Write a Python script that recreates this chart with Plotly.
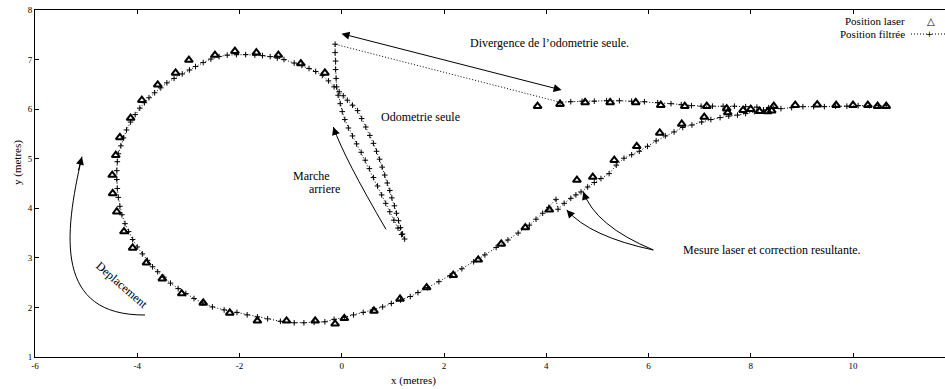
import plotly.graph_objects as go

# ---- Data ----
laser_x = [3.83, 4.27, 4.76, 5.25, 5.75, 6.24, 6.71, 7.14, 7.53, 7.55, 7.85, 8.00, 8.17, 8.33, 8.41,
           8.45, 8.87, 9.30, 9.67, 10.00, 10.29, 10.48, 10.65,
           7.09, 6.65, 6.22, 5.77, 5.33, 4.91, 4.60, 4.06, 3.59, 3.12, 2.67, 2.18, 1.66, 1.14, 0.63,
           0.05, -0.13, -0.52, -1.08, -1.65, -2.19, -2.71, -3.13, -3.51, -3.82, -4.09, -4.26, -4.40,
           -4.48, -4.49, -4.42, -4.34, -4.13, -3.91, -3.60, -3.25, -2.99, -2.48, -2.09, -1.67, -1.24,
           -0.80, -0.33]
laser_y = [6.06, 6.10, 6.135, 6.135, 6.135, 6.08, 6.06, 6.06, 6.01, 5.93, 5.98, 6.00, 5.96, 5.95, 5.97,
           6.06, 6.08, 6.09, 6.08, 6.08, 6.08, 6.06, 6.06,
           5.84, 5.70, 5.52, 5.25, 4.97, 4.63, 4.57, 3.97, 3.61, 3.28, 2.96, 2.65, 2.40, 2.17, 1.93,
           1.78, 1.67, 1.73, 1.73, 1.73, 1.89, 2.09, 2.28, 2.58, 2.90, 3.20, 3.53, 3.93,
           4.30, 4.67, 5.07, 5.43, 5.82, 6.18, 6.49, 6.73, 6.99, 7.09, 7.17, 7.14, 7.09,
           6.92, 6.73]

filt_x = [8.45, 8.25, 8.07, 7.90, 7.74, 7.57, 7.40, 7.22, 7.04, 6.85, 6.67, 6.50, 6.33, 6.15, 5.98,
          5.82, 5.67, 5.52, 5.37, 5.23, 5.07, 4.94, 4.81, 4.68, 4.58, 4.48, 4.35, 4.23, 4.19, 4.05,
          3.93, 3.80, 3.67, 3.45, 3.25, 3.02, 2.80, 2.58, 2.35, 2.12, 1.90, 1.68, 1.49, 1.34, 1.15,
          0.97, 0.80, 0.60, 0.42, 0.23, 0.05, -0.15, -0.33, -0.54, -0.74, -0.93, -1.20, -1.45, -1.65,
          -1.85, -2.05, -2.30, -2.53, -2.72, -2.89, -3.05, -3.20, -3.35, -3.48, -3.60, -3.70, -3.80,
          -3.90, -4.00, -4.09, -4.17, -4.24, -4.30, -4.34, -4.37, -4.39, -4.40, -4.40, -4.39, -4.37,
          -4.32, -4.27, -4.21, -4.13, -4.04, -3.95, -3.86, -3.77, -3.66, -3.54, -3.42, -3.28, -3.12,
          -2.98, -2.86, -2.71, -2.56, -2.40, -2.24, -2.06, -1.88, -1.70, -1.55, -1.40, -1.26, -1.13,
          -0.93, -0.78, -0.64, -0.51, -0.38, -0.26, -0.15, -0.05, 0.03, 0.11, 0.21, 0.31,
          0.39, 0.47, 0.55, 0.62, 0.68, 0.74, 0.79, 0.84, 0.89, 0.94, 0.98, 1.03, 1.07, 1.11, 1.15,
          1.19, 1.23,
          1.17, 1.10, 1.02, 0.94, 0.86, 0.78, 0.70, 0.62, 0.54, 0.46, 0.38, 0.29, 0.21, 0.13, 0.06,
          0.01, -0.03, -0.07, -0.10, -0.11, -0.12, -0.12, -0.13, -0.13,
          4.27, 4.48, 4.70, 4.94, 5.18, 5.43, 5.67, 5.92, 6.18, 6.44, 6.64, 6.84, 7.03, 7.25, 7.46,
          7.68, 7.90, 8.12, 8.35, 8.59, 8.80, 9.02, 9.23, 9.44, 9.66, 9.88, 10.10, 10.32, 10.50, 10.65]
filt_y = [6.02, 5.98, 5.95, 5.91, 5.88, 5.86, 5.83, 5.79, 5.74, 5.68, 5.63, 5.54, 5.46, 5.36, 5.25,
          5.15, 5.08, 5.01, 4.87, 4.70, 4.60, 4.52, 4.43, 4.33, 4.27, 4.20, 4.10, 3.98, 4.18, 4.02,
          3.90, 3.78, 3.66, 3.50, 3.36, 3.21, 3.06, 2.92, 2.78, 2.64, 2.52, 2.40, 2.30, 2.22, 2.15,
          2.08, 2.01, 1.95, 1.90, 1.85, 1.80, 1.76, 1.71, 1.70, 1.69, 1.69, 1.72, 1.77, 1.81,
          1.85, 1.90, 1.95, 2.01, 2.09, 2.18, 2.28, 2.38, 2.49, 2.61, 2.72, 2.82, 2.95,
          3.08, 3.22, 3.37, 3.53, 3.69, 3.87, 4.04, 4.22, 4.40, 4.58, 4.76, 4.94, 5.10,
          5.26, 5.42, 5.58, 5.74, 5.89, 6.02, 6.13, 6.23, 6.33, 6.43, 6.53, 6.62, 6.71,
          6.79, 6.86, 6.94, 7.01, 7.06, 7.09, 7.10, 7.10, 7.09, 7.08, 7.06, 7.03, 7.00,
          6.93, 6.88, 6.82, 6.76, 6.68, 6.57, 6.45, 6.35, 6.27, 6.18, 6.08, 5.97,
          5.81, 5.64, 5.47, 5.31, 5.15, 4.99, 4.83, 4.67, 4.51, 4.36, 4.21, 4.05, 3.90, 3.75, 3.61,
          3.48, 3.38,
          3.47, 3.60, 3.76, 3.93, 4.10, 4.27, 4.45, 4.62, 4.80, 4.97, 5.13, 5.30, 5.46, 5.62, 5.79,
          5.95, 6.11, 6.28, 6.45, 6.62, 6.80, 6.97, 7.14, 7.31,
          6.14, 6.15, 6.16, 6.16, 6.17, 6.17, 6.16, 6.15, 6.13, 6.11, 6.09, 6.07, 6.06, 6.06, 6.06,
          6.06, 6.05, 6.04, 6.03, 6.01, 6.03, 6.05, 6.05, 6.05, 6.06, 6.06, 6.07, 6.07, 6.07, 6.07]

x_ticks = [-6, -4, -2, 0, 2, 4, 6, 8, 10]
y_ticks = [1, 2, 3, 4, 5, 6, 7, 8]
x_title = "x (metres)"
y_title = "y (metres)"
legend_labels = ["Position laser", "Position filtrée"]

SERIF = "Liberation Serif, Times New Roman, serif"

fig = go.Figure()
fig.add_trace(go.Scatter(
    x=filt_x, y=filt_y, mode="lines+markers", name=legend_labels[1], showlegend=False,
    line=dict(color="black", width=1, dash="1px,2px"),
    marker=dict(symbol="cross-thin", size=4, color="black", line=dict(width=1, color="black")),
))
fig.add_trace(go.Scatter(
    x=laser_x, y=laser_y, mode="markers", name=legend_labels[0], showlegend=False,
    marker=dict(symbol="triangle-up-open", size=7, color="black", line=dict(width=2, color="black")),
))

txt = dict(family=SERIF, size=12, color="black")
ann = []
# text labels
ann.append(dict(x=4.07, y=7.33, text="Divergence de l\u2019odometrie seule.", showarrow=False, font=txt))
ann.append(dict(x=1.55, y=5.85, text="Odometrie seule", showarrow=False, font=txt))
ann.append(dict(x=-0.59, y=4.65, text="Marche", showarrow=False, font=txt))
ann.append(dict(x=-0.33, y=4.38, text="arriere", showarrow=False, font=txt))
ann.append(dict(x=-4.3, y=2.45, text="Deplacement", showarrow=False, font=txt, textangle=41))
ann.append(dict(x=8.41, y=3.16, text="Mesure laser et correction resultante.", showarrow=False, font=txt))

# straight double-headed arrow
ann.append(dict(x=4.30, y=6.386, ax=-0.034, ay=7.53, axref="x", ayref="y", text="",
                showarrow=True, arrowside="end+start", arrowhead=2, startarrowhead=2,
                arrowsize=1.6, startarrowsize=1.6, arrowwidth=1, arrowcolor="black"))
# arrowheads at the ends of curved arrows
for tip, tail in [((-5.081, 5.041), (-5.16, 4.73)),
                  ((-0.165, 5.64), (-0.101, 5.45)),
                  ((4.40, 3.966), (4.529, 3.814)),
                  ((4.725, 4.335), (4.789, 4.145))]:
    ann.append(dict(x=tip[0], y=tip[1], ax=tail[0], ay=tail[1], axref="x", ayref="y", text="",
                    showarrow=True, arrowhead=2, arrowsize=1.6, arrowwidth=1, arrowcolor="black"))

# axis titles
ann.append(dict(xref="paper", yref="paper", x=(413 - 35) / 910, y=(357 - 380) / 347, text=x_title,
                xanchor="center", yanchor="middle",
                showarrow=False, font=dict(family=SERIF, size=11, color="black")))
ann.append(dict(xref="paper", yref="paper", x=(17 - 35) / 910, y=(357 - 163) / 347, text=y_title,
                xanchor="center", yanchor="middle",
                showarrow=False, textangle=-90, font=dict(family=SERIF, size=11, color="black")))

# legend (gnuplot style: text left, sample right)
lf = dict(family=SERIF, size=11, color="black")
ann.append(dict(xref="paper", yref="paper", x=(907 - 35) / 910, y=(357 - 21) / 347, xanchor="right",
                yanchor="middle", text=legend_labels[0], showarrow=False, font=lf))
ann.append(dict(xref="paper", yref="paper", x=(907 - 35) / 910, y=(357 - 34) / 347, xanchor="right",
                yanchor="middle", text=legend_labels[1], showarrow=False, font=lf))
ann.append(dict(xref="paper", yref="paper", x=(931 - 35) / 910, y=(357 - 21) / 347,
                xanchor="center", yanchor="middle",
                text="\u25b3", showarrow=False, font=dict(family="DejaVu Sans", size=10, color="black")))
ann.append(dict(xref="paper", yref="paper", x=(929 - 35) / 910, y=(357 - 34) / 347,
                xanchor="center", yanchor="middle",
                text="+", showarrow=False, font=dict(family="DejaVu Sans", size=8, color="black")))

shapes = [
    dict(type="path", xref="x", yref="y", line=dict(color="black", width=1),
         path="M -3.848,1.847 C -5.609,1.837 -5.441,3.444 -5.081,5.041"),
    dict(type="path", xref="x", yref="y", line=dict(color="black", width=1),
         path="M 0.866,3.575 Q 0.051,5.01 -0.165,5.64"),
    dict(type="path", xref="x", yref="y", line=dict(color="black", width=1),
         path="M 6.094,3.159 Q 4.856,3.429 4.40,3.966"),
    dict(type="path", xref="x", yref="y", line=dict(color="black", width=1),
         path="M 6.094,3.159 Q 4.955,3.648 4.725,4.335"),
    dict(type="line", xref="paper", yref="paper", x0=(911 - 35) / 910, x1=1.0,
         y0=(357 - 34) / 347, y1=(357 - 34) / 347, line=dict(color="black", width=1, dash="1px,2px")),
]

fig.update_layout(
    width=945, height=389,
    margin=dict(l=35, r=0, t=10, b=32, pad=0, autoexpand=False),
    paper_bgcolor="white", plot_bgcolor="white",
    annotations=ann, shapes=shapes, showlegend=False,
    font=dict(family=SERIF, color="black"),
)
fig.update_xaxes(range=[-6, -6 + 910 / 51.125], tickvals=x_ticks, ticktext=[str(v) for v in x_ticks],
                 ticks="inside", ticklen=4, tickcolor="black", showline=True, linecolor="black",
                 linewidth=1, mirror="ticks", showgrid=False, zeroline=False, automargin=False,
                 tickfont=dict(family=SERIF, size=9, color="black"))
fig.update_yaxes(range=[1, 8], tickvals=y_ticks, ticktext=[str(v) for v in y_ticks],
                 ticks="inside", ticklen=4, tickcolor="black", showline=True, linecolor="black",
                 linewidth=1, mirror=False, showgrid=False, zeroline=False, automargin=False,
                 tickfont=dict(family=SERIF, size=9, color="black"))

# remove the default 8px page margin so the figure sits at the window's top-left corner
fig.write_html("out.html", config={"displayModeBar": False},
               post_script="document.body.style.margin='0';document.body.style.overflow='hidden';")
